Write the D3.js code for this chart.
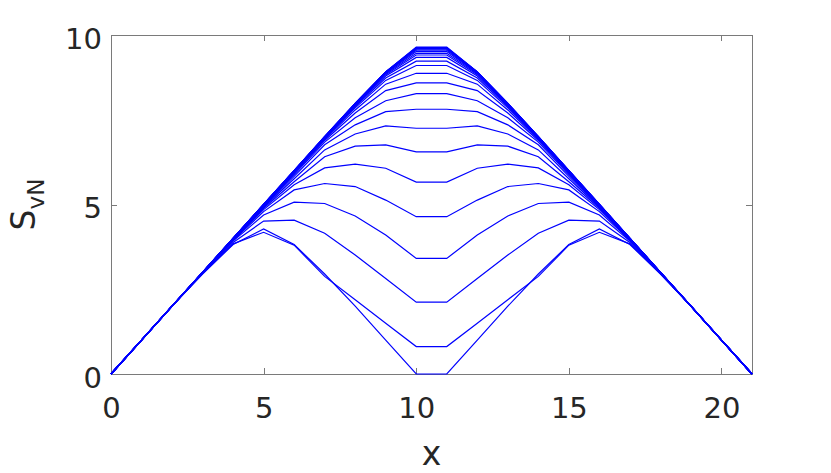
<!DOCTYPE html>
<html>
<head>
<meta charset="utf-8">
<script src="https://cdn.jsdelivr.net/npm/d3@7"></script>
<style>
  html, body { margin: 0; padding: 0; background: #fff; }
  svg text { font-family: "DejaVu Sans", sans-serif; fill: #262626; }
</style>
</head>
<body>
<div class="chart"></div>
<script>
// bond position along the chain
const sites = [0,1,2,3,4,5,6,7,8,9,10,11,12,13,14,15,16,17,18,19,20,21];

// entanglement entropy profile, one row per time step (bottom to top)
const entropyRows = [
  [0,1,2,2.95,3.82,4.28,3.82,2.95,2,1,0, 0,1,2,2.95,3.82,4.28,3.82,2.95,2,1,0],
  [0,1,2,2.96,3.84,4.18,3.8,2.88,2.19,1.5,0.81, 0.81,1.5,2.19,2.88,3.8,4.18,3.84,2.96,2,1,0],
  [0,1,2,2.97,3.88,4.51,4.54,4.15,3.51,2.82,2.12, 2.12,2.82,3.51,4.15,4.54,4.51,3.88,2.97,2,1,0],
  [0,1,2,2.98,3.92,4.69,5.07,5.03,4.66,4.1,3.41, 3.41,4.1,4.66,5.03,5.07,4.69,3.92,2.98,2,1,0],
  [0,1,2,2.99,3.94,4.79,5.43,5.62,5.53,5.13,4.64, 4.64,5.13,5.53,5.62,5.43,4.79,3.94,2.99,2,1,0],
  [0,1,2,3,3.95,4.85,5.58,6.08,6.19,6.07,5.66, 5.66,6.07,6.19,6.08,5.58,4.85,3.95,3,2,1,0],
  [0,1,2,3,3.96,4.89,5.67,6.41,6.72,6.76,6.55, 6.55,6.76,6.72,6.41,5.67,4.89,3.96,3,2,1,0],
  [0,1,2,3,3.97,4.92,5.76,6.61,7.08,7.32,7.25, 7.25,7.32,7.08,6.61,5.76,4.92,3.97,3,2,1,0],
  [0,1,2,3,3.98,4.94,5.83,6.76,7.35,7.74,7.81, 7.81,7.74,7.35,6.76,5.83,4.94,3.98,3,2,1,0],
  [0,1,2,3,3.98,4.95,5.88,6.84,7.56,8.06,8.27, 8.27,8.06,7.56,6.84,5.88,4.95,3.98,3,2,1,0],
  [0,1,2,3,3.99,4.96,5.91,6.89,7.7,8.36,8.59, 8.59,8.36,7.7,6.89,5.91,4.96,3.99,3,2,1,0],
  [0,1,2,3,3.99,4.97,5.94,6.92,7.79,8.55,8.87, 8.87,8.55,7.79,6.92,5.94,4.97,3.99,3,2,1,0],
  [0,1,2,3,3.99,4.98,5.96,6.94,7.85,8.66,9.1, 9.1,8.66,7.85,6.94,5.96,4.98,3.99,3,2,1,0],
  [0,1,2,3,4,4.98,5.97,6.96,7.89,8.73,9.23, 9.23,8.73,7.89,6.96,5.97,4.98,4,3,2,1,0],
  [0,1,2,3,4,4.99,5.98,6.97,7.92,8.79,9.34, 9.34,8.79,7.92,6.97,5.98,4.99,4,3,2,1,0],
  [0,1,2,3,4,4.99,5.98,6.98,7.94,8.83,9.41, 9.41,8.83,7.94,6.98,5.98,4.99,4,3,2,1,0],
  [0,1,2,3,4,4.99,5.99,6.98,7.95,8.86,9.46, 9.46,8.86,7.95,6.98,5.99,4.99,4,3,2,1,0],
  [0,1,2,3,4,5,5.99,6.99,7.96,8.88,9.51, 9.51,8.88,7.96,6.99,5.99,5,4,3,2,1,0],
  [0,1,2,3,4,5,6,6.99,7.97,8.89,9.55, 9.55,8.89,7.97,6.99,6,5,4,3,2,1,0],
  [0,1,2,3,4,5,6,7,7.97,8.9,9.58, 9.58,8.9,7.97,7,6,5,4,3,2,1,0],
  [0,1,2,3,4,5,6,7,7.98,8.91,9.6, 9.6,8.91,7.98,7,6,5,4,3,2,1,0],
  [0,1,2,3,4,5,6,7,7.98,8.91,9.62, 9.62,8.91,7.98,7,6,5,4,3,2,1,0],
  [0,1,2,3,4,5,6,7,7.98,8.91,9.63, 9.63,8.91,7.98,7,6,5,4,3,2,1,0],
  [0,1,2,3,4,5,6,7,7.98,8.91,9.64, 9.64,8.91,7.98,7,6,5,4,3,2,1,0]
];

const xTicks = [0,5,10,15,20];
const yTicks = [0,5,10];

var W = 831, H = 473;
var plot = {left:111, right:752, top:35, bottom:374};

var svg = d3.select(".chart")
  .append("svg")
  .attr("width", W)
  .attr("height", H);

var x = d3.scaleLinear().domain([0,21]).range([plot.left, plot.right]);
var y = d3.scaleLinear().domain([0,10]).range([plot.bottom, plot.top]);

// axes box
svg.append("rect")
  .attr("x", plot.left)
  .attr("y", plot.top)
  .attr("width", plot.right - plot.left)
  .attr("height", plot.bottom - plot.top)
  .attr("fill", "none")
  .attr("stroke", "#7a7a7a")
  .attr("shape-rendering", "crispEdges");

function styleAxis(g){
  g.select(".domain").remove();
  g.selectAll(".tick line")
    .attr("stroke", "#7a7a7a")
    .attr("shape-rendering", "crispEdges");
  g.selectAll(".tick text")
    .attr("fill", "#262626")
    .style("font-size", "29px");
}

svg.append("g")
  .attr("transform", "translate(0," + plot.bottom + ")")
  .call(d3.axisBottom(x).tickValues(xTicks).tickSizeInner(-6).tickSizeOuter(0).tickPadding(23))
  .call(styleAxis);

svg.append("g")
  .attr("transform", "translate(0," + plot.top + ")")
  .call(d3.axisTop(x).tickValues(xTicks).tickSizeInner(-6).tickSizeOuter(0).tickFormat(""))
  .call(styleAxis);

svg.append("g")
  .attr("transform", "translate(" + plot.left + ",0)")
  .call(d3.axisLeft(y).tickValues(yTicks).tickSizeInner(-6).tickSizeOuter(0).tickPadding(9))
  .call(styleAxis)
  .selectAll(".tick text").attr("dy", "0.45em");

svg.append("g")
  .attr("transform", "translate(" + plot.right + ",0)")
  .call(d3.axisRight(y).tickValues(yTicks).tickSizeInner(-6).tickSizeOuter(0).tickFormat(""))
  .call(styleAxis);

// curves
var line = d3.line()
  .x((d,i) => x(sites[i]))
  .y(d => y(d));

svg.append("g")
  .selectAll("path")
  .data(entropyRows)
  .enter().append("path")
  .attr("d", line)
  .attr("fill", "none")
  .attr("stroke", "#0000ff")
  .attr("stroke-width", 1.2);

// axis labels
svg.append("text")
  .attr("x", (plot.left + plot.right) / 2)
  .attr("y", 465)
  .attr("text-anchor", "middle")
  .style("font-size", "33px")
  .text("x");

var yl = svg.append("text")
  .attr("transform", "translate(35," + (plot.top + plot.bottom) / 2 + ") rotate(-90)")
  .attr("text-anchor", "middle")
  .style("font-size", "33px");
yl.append("tspan").text("S");
yl.append("tspan").attr("dy", 9).style("font-size", "23px").text("vN");
</script>
</body>
</html>
